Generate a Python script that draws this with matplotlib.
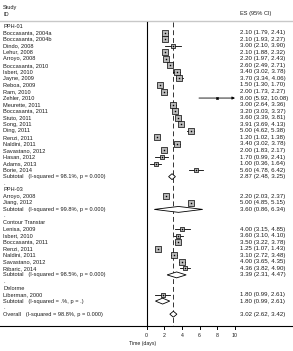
import matplotlib.pyplot as plt
from matplotlib.patches import Polygon

plt.rcParams['font.family'] = ['Liberation Sans', 'DejaVu Sans']

# rows of the forest plot, top to bottom
labels = ["PPH-01", "Boccasanta, 2004a", "Boccasanta, 2004b", "Dindo, 2008", "Lehur, 2008",
          "Arroyo, 2008", "Boccasanta, 2010", "Isbert, 2010", "Jayne, 2009", "Reboa, 2009",
          "Ram, 2010", "Zehler, 2010", "Meurette, 2011", "Boccasanta, 2011", "Stuto, 2011",
          "Song, 2011", "Ding, 2011", "Renzi, 2011", "Naldini, 2011", "Savastano, 2012",
          "Hasan, 2012", "Adams, 2013", "Borie, 2014",
          "Subtotal   (I-squared = 98.1%, p = 0.000)", ".",
          "PPH-03", "Arroyo, 2008", "Jiang, 2012",
          "Subtotal   (I-squared = 99.8%, p = 0.000)", ".",
          "Contour Transtar", "Lenisa, 2009", "Isbert, 2010", "Boccasanta, 2011", "Renzi, 2011",
          "Naldini, 2011", "Savastano, 2012", "Ribaric, 2014",
          "Subtotal   (I-squared = 98.5%, p = 0.000)", ".",
          "Delorme", "Liberman, 2000",
          "Subtotal   (I-squared = .%, p = .)", ".",
          "Overall   (I-squared = 98.8%, p = 0.000)"]
# h=group header, s=study, d=subtotal/overall diamond, b=blank
kinds = ["h"] + ["s"] * 22 + ["d", "b", "h", "s", "s", "d", "b", "h"] + ["s"] * 7 + \
        ["d", "b", "h", "s", "d", "b", "d"]
es = [None, 2.10, 2.10, 3.00, 2.10, 2.20, 2.60, 3.40, 3.70, 1.50, 2.00, 8.00, 3.00, 3.20, 3.60,
      3.91, 5.00, 1.20, 3.40, 2.00, 1.70, 1.00, 5.60, 2.87, None,
      None, 2.20, 5.00, 3.60, None,
      None, 4.00, 3.60, 3.50, 1.25, 3.10, 4.00, 4.36, 3.39, None,
      None, 1.80, 1.80, None, 3.02]
lo = [None, 1.79, 1.93, 2.10, 1.88, 1.97, 2.49, 3.02, 3.34, 1.30, 1.73, 5.92, 2.64, 3.03, 3.39,
      3.69, 4.62, 1.02, 3.02, 1.83, 0.99, 0.36, 4.78, 2.48, None,
      None, 2.03, 4.85, 0.86, None,
      None, 3.15, 3.10, 3.22, 1.07, 2.72, 3.65, 3.82, 2.31, None,
      None, 0.99, 0.99, None, 2.62]
hi = [None, 2.41, 2.27, 3.90, 2.32, 2.43, 2.71, 3.78, 4.06, 1.70, 2.27, 10.08, 3.36, 3.37, 3.81,
      4.13, 5.38, 1.38, 3.78, 2.17, 2.41, 1.64, 6.42, 3.25, None,
      None, 2.37, 5.15, 6.34, None,
      None, 4.85, 4.10, 3.78, 1.43, 3.48, 4.35, 4.90, 4.47, None,
      None, 2.61, 2.61, None, 3.42]
# relative study weights
weights = [None, 1.0, 1.0, 0.6, 1.0, 1.0, 1.0, 1.0, 1.0, 1.0, 1.0, 0.4, 1.0, 1.0, 1.0,
           1.0, 1.0, 1.0, 1.0, 1.0, 0.7, 0.7, 0.8, None, None,
           None, 1.0, 1.0, None, None,
           None, 0.8, 0.9, 1.0, 1.0, 1.0, 1.0, 0.9, None, None,
           None, 0.8, None, None, None]
overall = 3.02
xticks = [0, 2, 4, 6, 8, 10]

# pixel mapping helpers
W, H = 293, 351
x0px, pxu = 146.7, 8.83
y0px, pxr = 26.0, 6.55

def xd(px):
    return (px - x0px) / pxu

def yd(px):
    return (px - y0px) / pxr

fig = plt.figure(figsize=(W / 100, H / 100), dpi=100)
ax = fig.add_axes([0, 0, 1, 1])
ax.set_xlim(xd(0), xd(W))
ax.set_ylim(yd(H), yd(0))
ax.axis('off')

fs = 4.1
fs_es = 4.45
tc = '#1a1a1a'

# header
ax.text(xd(3), yd(7), "Study", fontsize=fs, color=tc, va='center')
ax.text(xd(3), yd(14), "ID", fontsize=fs, color=tc, va='center')
ax.text(xd(240), yd(14), "ES (95% CI)", fontsize=fs, color=tc, va='center')
ax.plot([xd(0), xd(W)], [yd(21), yd(21)], color='#c8c8c8', lw=1.0)

top, bot = yd(21.5), yd(325.7)
# null line and overall dashed line
ax.plot([0, 0], [top, bot], color='black', lw=0.8)
ax.plot([overall, overall], [top, bot], color='#333333', lw=0.7, dashes=(5, 3))

# bottom axis
ax.plot([xd(0), xd(W)], [bot, bot], color='black', lw=0.8)
for t in xticks:
    ax.plot([t, t], [bot, yd(328.8)], color='black', lw=0.7)
    ax.text(t, yd(335), str(t), fontsize=3.8, color=tc, ha='center', va='center')
ax.text(xd(143), yd(343.5), "Time (days)", fontsize=3.7, color=tc, ha='center', va='center')

xmax = 10
for r, (lab, k) in enumerate(zip(labels, kinds)):
    ax.text(xd(3), r, lab, fontsize=fs, color=tc, va='center')
    if k == 's':
        e, l, h = es[r], lo[r], hi[r]
        if h > xmax:
            ax.annotate("", xy=(xmax, r), xytext=(l, r),
                        arrowprops=dict(arrowstyle='-|>', color='black', lw=0.6,
                                        mutation_scale=4, shrinkA=0, shrinkB=0))
        else:
            ax.plot([l, h], [r, r], color='black', lw=0.6)
        side = 5.2 * weights[r] * 0.72
        ax.scatter([e], [r], marker='s', s=side ** 2, facecolor='#b8b8b8',
                   edgecolor='black', linewidth=0.5, zorder=3)
        ax.scatter([e], [r], marker='o', s=1.2, color='black', zorder=4, linewidth=0)
    if k == 'd':
        e, l, h = es[r], lo[r], hi[r]
        hh = 0.45
        ax.add_patch(Polygon([(l, r), (e, r - hh), (h, r), (e, r + hh)], closed=True,
                             facecolor='white', edgecolor='black', lw=0.6, zorder=3))
    if es[r] is not None and k in ('s', 'd'):
        ax.text(xd(240), r, f"{es[r]:.2f} ({lo[r]:.2f}, {hi[r]:.2f})",
                fontsize=fs_es, color=tc, va='center')

fig.savefig("out.png", dpi=100)
